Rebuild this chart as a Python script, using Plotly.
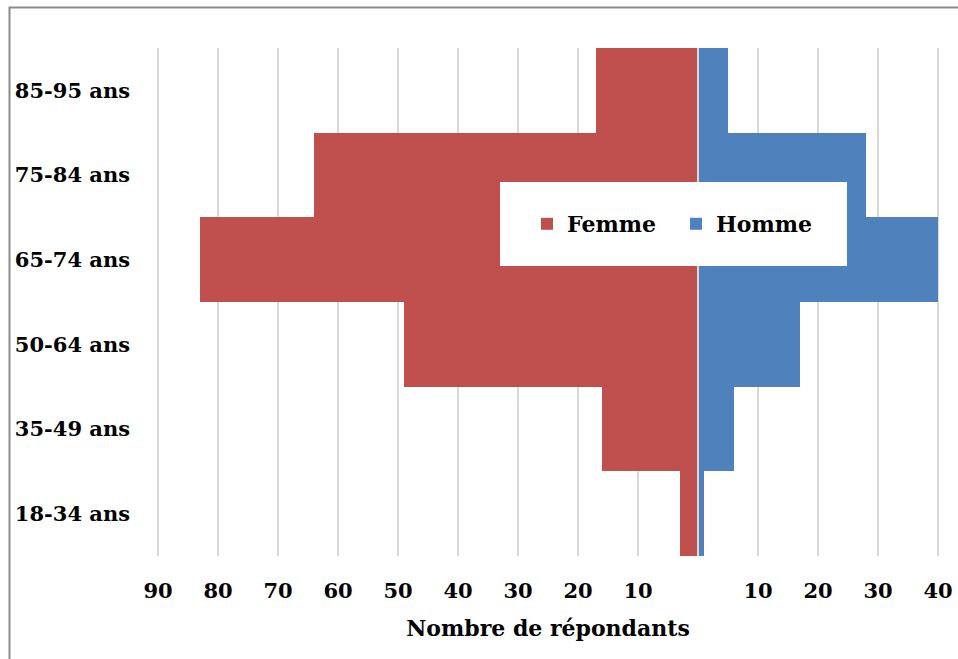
import plotly.graph_objects as go

categories = ["18-34 ans", "35-49 ans", "50-64 ans", "65-74 ans", "75-84 ans", "85-95 ans"]
femme = [3, 16, 49, 83, 64, 17]
homme = [1, 6, 17, 40, 28, 5]
x_tickvals = [-90, -80, -70, -60, -50, -40, -30, -20, -10, 0, 10, 20, 30, 40]
x_ticktext = ["90", "80", "70", "60", "50", "40", "30", "20", "10", "", "10", "20", "30", "40"]

RED = "#C0504D"
BLUE = "#4F81BD"
FONT = dict(family="DejaVu Serif, serif", size=21, color="#000000", weight="bold")
FONT_BIG = dict(family="DejaVu Serif, serif", size=22, color="#000000", weight="bold")

fig = go.Figure()
fig.add_trace(go.Bar(
    y=categories, x=[-v for v in femme], orientation="h", name="Femme",
    marker=dict(color=RED, line=dict(width=0)),
))
fig.add_trace(go.Bar(
    y=categories, x=homme, orientation="h", name="Homme",
    marker=dict(color=BLUE, line=dict(width=0)),
))

W, H = 958, 659
L, R, T, B = 155, 17, 48, 103
pw, ph = W - L - R, H - T - B

def px(x):
    return (x - L) / pw

def py(y):
    return (H - B - y) / ph

fig.update_layout(
    width=W, height=H,
    margin=dict(l=L, r=R, t=T, b=B, pad=0, autoexpand=False),
    barmode="relative", bargap=0,
    paper_bgcolor="white", plot_bgcolor="white",
    font=FONT,
    showlegend=True,
    legend=dict(
        orientation="h", x=px(676), y=py(224), xanchor="center", yanchor="middle",
        bgcolor="rgba(0,0,0,0)", font=FONT_BIG, traceorder="normal",
        entrywidth=104,
    ),
    xaxis=dict(
        range=[-90.5, 40.5], tickvals=x_tickvals, ticktext=x_ticktext,
        showgrid=True, gridcolor="#D9D9D9", gridwidth=1.5,
        zeroline=False, automargin=False,
        showline=False, ticks="", ticklabelstandoff=20,
        tickfont=FONT,
        title=dict(text="Nombre de répondants", font=FONT_BIG, standoff=18),
        fixedrange=True,
    ),
    yaxis=dict(
        showgrid=False, zeroline=False, showline=False, ticks="",
        ticklabelstandoff=24, tickfont=FONT, automargin=False,
        categoryorder="array", categoryarray=categories,
        fixedrange=True,
    ),
    shapes=[
        dict(type="line", xref="x", yref="paper", x0=0, x1=0, y0=0, y1=1,
             line=dict(color="#D9D9D9", width=2), layer="above"),
        dict(type="rect", xref="paper", yref="paper",
             x0=px(500), x1=px(847), y0=py(266), y1=py(182),
             fillcolor="white", line=dict(width=0), layer="above"),
        dict(type="rect", xref="paper", yref="paper",
             x0=px(9.5), x1=px(1000), y0=py(700), y1=py(7.5),
             fillcolor="rgba(0,0,0,0)", line=dict(color="#8C8C8C", width=2), layer="above"),
    ],
)

fig.write_html(
    "out.html",
    config={"displayModeBar": False},
    post_script="document.body.style.margin='0';document.body.style.overflow='hidden';",
)
